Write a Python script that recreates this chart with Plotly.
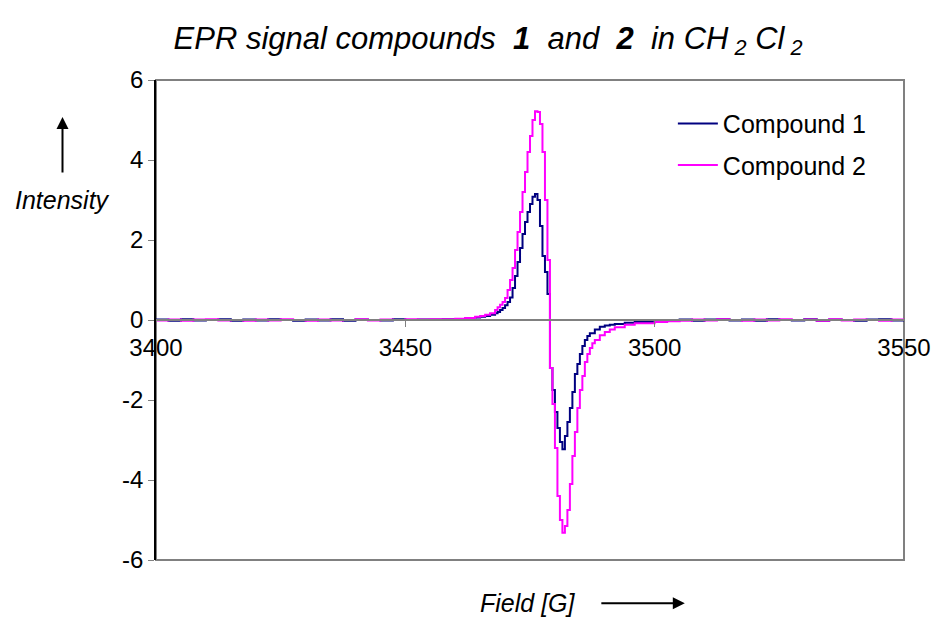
import plotly.graph_objects as go

# ---- data ----
field_1 = [3400, 3402.5, 3405, 3407.5, 3410, 3412.5, 3415, 3417.5, 3420, 3422.5, 3425, 3427.5,
           3430, 3432.5, 3435, 3437.5, 3440, 3442.5, 3445, 3447.5, 3450, 3452.5, 3455, 3457.5,
           3460, 3462, 3464, 3465, 3466, 3467, 3468, 3468.5, 3469, 3469.5, 3470, 3470.5,
           3471, 3471.5, 3472, 3472.5, 3473, 3473.5, 3474, 3474.5, 3475, 3475.5, 3476, 3476.5,
           3477, 3477.5, 3478, 3478.5, 3479, 3479.5, 3480, 3480.5, 3481, 3481.5, 3482, 3482.5,
           3483, 3483.5, 3484, 3484.5, 3485, 3485.5, 3486, 3486.5, 3487, 3488, 3489, 3490,
           3491, 3492, 3494, 3496, 3500, 3502.5, 3505, 3507.5, 3510, 3512.5, 3515, 3517.5,
           3520, 3522.5, 3525, 3527.5, 3530, 3532.5, 3535, 3537.5, 3540, 3542.5, 3545, 3547.5, 3550]
intensity_1 = [0.01, -0.02, 0.02, -0.01, 0.0, 0.02, -0.02, 0.01, -0.01, 0.02, 0.0, -0.02,
               0.01, -0.01, 0.02, -0.02, 0.01, 0.0, -0.01, 0.02, 0.0, 0.01, 0.01, 0.02,
               0.02, 0.04, 0.06, 0.08, 0.10, 0.13, 0.17, 0.20, 0.25, 0.30, 0.37, 0.45,
               0.56, 0.80, 1.10, 1.45, 1.80, 2.15, 2.45, 2.70, 2.90, 3.08, 3.15, 3.00,
               2.35, 1.60, 1.20, 0.65, -1.20, -1.75, -2.30, -2.70, -3.05, -3.23, -2.90, -2.55,
               -2.20, -1.80, -1.35, -1.10, -0.85, -0.65, -0.50, -0.40, -0.33, -0.24, -0.17, -0.14,
               -0.12, -0.10, -0.07, -0.05, -0.03, -0.01, 0.01, -0.02, 0.01, 0.02, -0.01, 0.01,
               -0.02, 0.02, 0.0, -0.01, 0.02, -0.02, 0.01, 0.0, -0.02, 0.01, 0.02, -0.01, 0.0]

field_2 = [3400, 3402.5, 3405, 3407.5, 3410, 3412.5, 3415, 3417.5, 3420, 3422.5, 3425, 3427.5,
           3430, 3432.5, 3435, 3437.5, 3440, 3442.5, 3445, 3447.5, 3450, 3452.5, 3455, 3457.5,
           3460, 3462, 3464, 3465, 3466, 3467, 3468, 3468.5, 3469, 3469.5, 3470, 3470.5,
           3471, 3471.5, 3472, 3472.5, 3473, 3473.5, 3474, 3474.5, 3475, 3475.5, 3476, 3476.5,
           3477, 3477.5, 3478, 3478.5, 3479, 3479.5, 3480, 3480.5, 3481, 3481.5, 3482, 3482.5,
           3483, 3483.5, 3484, 3484.5, 3485, 3485.5, 3486, 3486.5, 3487, 3487.5, 3488, 3489,
           3490, 3491, 3492, 3494, 3496, 3500, 3502.5, 3505, 3507.5, 3510, 3512.5, 3515, 3517.5,
           3520, 3522.5, 3525, 3527.5, 3530, 3532.5, 3535, 3537.5, 3540, 3542.5, 3545, 3547.5, 3550]
intensity_2 = [-0.01, 0.01, -0.02, 0.01, 0.02, -0.01, 0.0, -0.02, 0.01, -0.01, 0.02, 0.0,
               -0.02, 0.01, -0.01, 0.0, 0.02, -0.01, 0.01, 0.0, 0.02, 0.01, 0.02, 0.02,
               0.03, 0.05, 0.08, 0.10, 0.13, 0.17, 0.25, 0.32, 0.38, 0.45, 0.55, 0.75,
               1.00, 1.30, 1.75, 2.20, 2.70, 3.20, 3.70, 4.20, 4.60, 5.00, 5.22, 5.20,
               4.90, 4.20, 3.00, 1.50, -1.20, -2.10, -3.20, -4.40, -5.00, -5.32, -5.15, -4.75,
               -4.10, -3.40, -2.80, -2.20, -1.75, -1.40, -1.05, -0.85, -0.70, -0.58, -0.50, -0.38,
               -0.30, -0.24, -0.18, -0.12, -0.08, -0.05, -0.03, -0.02, 0.01, -0.01, 0.02, 0.0, -0.02,
               0.01, -0.01, 0.02, 0.0, 0.01, -0.02, 0.02, -0.01, 0.01, 0.0, -0.02, 0.01, 0.0]

x_ticks = [3400, 3450, 3500, 3550]
y_ticks = [-6, -4, -2, 0, 2, 4, 6]

FONT = "Liberation Sans, Arial, sans-serif"

fig = go.Figure()
fig.add_trace(go.Scatter(x=field_1, y=intensity_1, mode="lines", name="Compound 1",
                         line=dict(color="#000080", width=2, shape="hv"), legendgroup="a"))
fig.add_trace(go.Scatter(x=field_2, y=intensity_2, mode="lines", name="Compound 2",
                         line=dict(color="#FF00FF", width=2, shape="hv"), legendgroup="b"))

fig.update_layout(
    width=935, height=619,
    margin=dict(l=156, r=31, t=80, b=59, autoexpand=False),
    paper_bgcolor="white", plot_bgcolor="white",
    font=dict(family=FONT, size=24, color="black"),
    title=dict(text="<i>EPR signal compounds  <b>1</b>  and  <b>2</b>  in CH<sub> 2</sub> Cl<sub> 2</sub></i>",
               x=0.522, xanchor="center", y=0.939, yanchor="middle",
               font=dict(family=FONT, size=31, color="black")),
    showlegend=True,
    legend=dict(x=0.691, y=0.957, xanchor="left", yanchor="top",
                bgcolor="rgba(0,0,0,0)", font=dict(size=25, family=FONT),
                traceorder="grouped", tracegroupgap=6, itemwidth=40),
    xaxis=dict(range=[3400, 3550], tickvals=x_ticks, ticktext=[str(v) for v in x_ticks],
               anchor="free", position=0.5, showline=True, linecolor="#808080", linewidth=2,
               ticks="outside", ticklen=6, tickcolor="#808080", tickwidth=1, automargin=False,
               showgrid=False, zeroline=False, tickfont=dict(size=24, family=FONT)),
    yaxis=dict(range=[-6, 6], tickvals=y_ticks, ticktext=[str(v) for v in y_ticks],
               showline=True, linecolor="black", linewidth=1.5, automargin=False,
               ticks="outside", ticklen=6, tickcolor="#808080", tickwidth=1,
               showgrid=False, zeroline=False, tickfont=dict(size=24, family=FONT)),
    shapes=[dict(type="rect", xref="paper", yref="paper", x0=0, x1=1, y0=0, y1=1,
                 line=dict(color="#808080", width=2), layer="below")],
    annotations=[
        dict(text="<i>Intensity</i>", xref="paper", yref="paper", x=-0.125, y=0.923,
             ax=0, ay=83, showarrow=True, arrowhead=2, arrowsize=1.2, arrowwidth=2,
             arrowcolor="black", startstandoff=12, font=dict(size=25, family=FONT)),
        dict(text="<i>Field [G]</i>", xref="paper", yref="paper", x=0.707, y=-0.09,
             ax=-157, ay=0, showarrow=True, arrowhead=2, arrowsize=1.2, arrowwidth=2,
             arrowcolor="black", startstandoff=24, font=dict(size=25, family=FONT)),
    ],
)

fig.write_html("out.html", config={"displayModeBar": False},
               post_script="document.body.style.margin='0';document.body.style.overflow='hidden';")
